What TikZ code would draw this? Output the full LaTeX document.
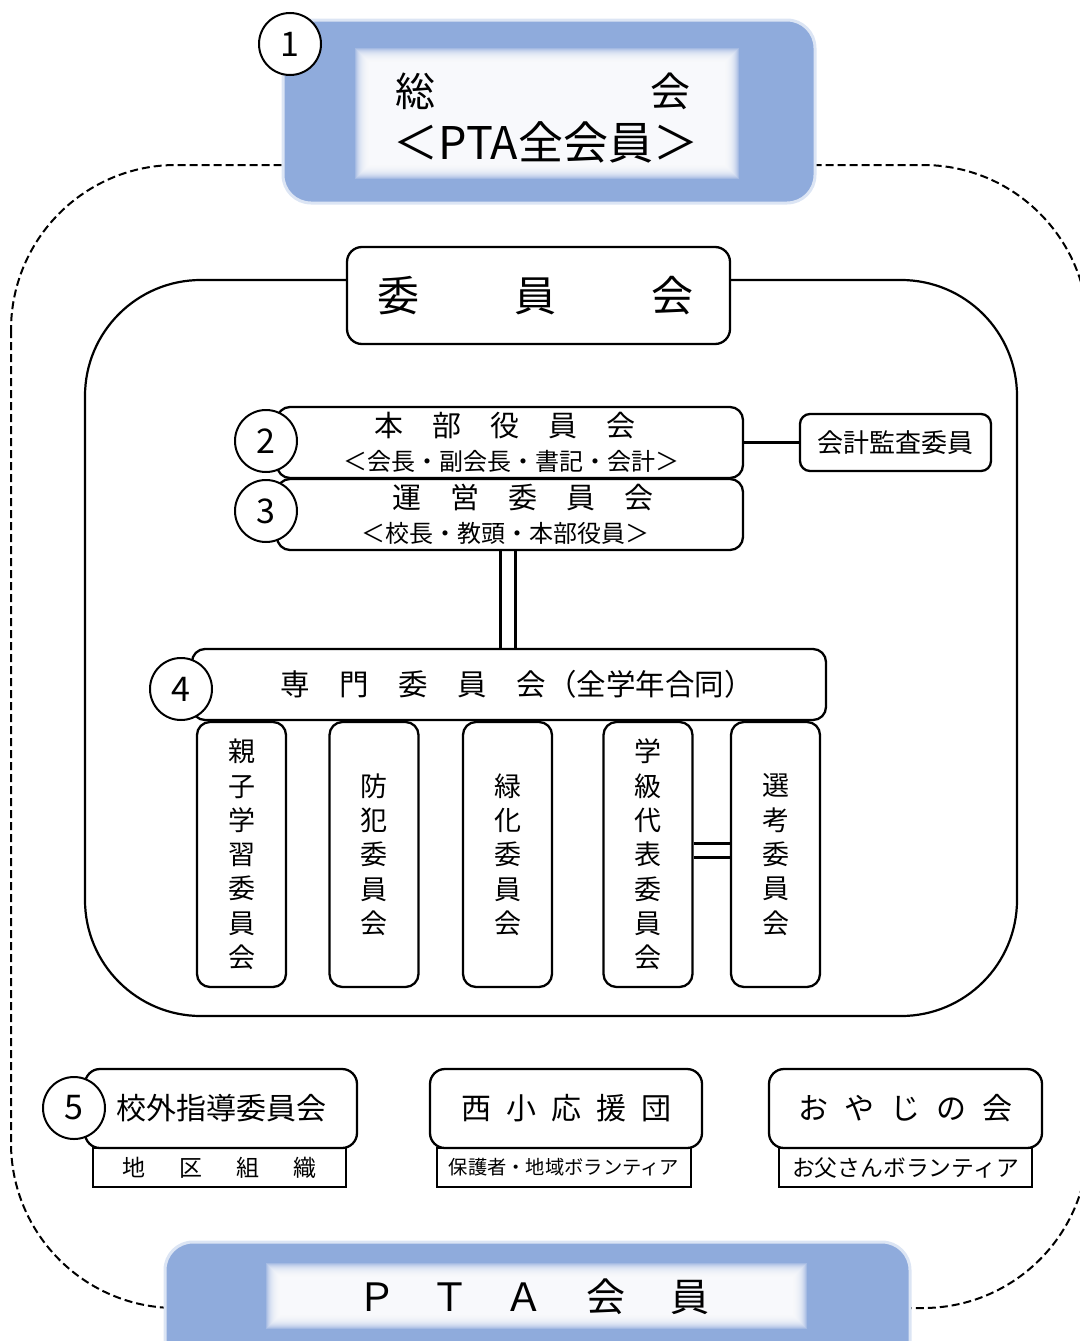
\documentclass[tikz,border=0pt]{standalone}
\usepackage{fontspec}
\setmainfont{Noto Sans CJK JP}
\usetikzlibrary{calc}
\definecolor{pblue}{HTML}{8FABDC}
\definecolor{pborder}{HTML}{DCE5F4}
\definecolor{pwhite}{HTML}{F8F9FC}
\tikzset{
 box/.style={draw=black, line width=2.3pt, rounded corners=13pt, fill=white, inner sep=0pt},
 num/.style={circle, draw=black, line width=2pt, fill=white, minimum size=62pt, inner sep=0pt, font=\fontsize{34}{34}\selectfont},
 subbox/.style={draw=black, line width=2.3pt, fill=white, inner sep=0pt, minimum height=39pt},
 conn/.style={draw=black, line width=2.4pt},
 dconn/.style={draw=black, line width=3pt},
 bluebox/.style={fill=pblue, draw=pborder, line width=3pt, rounded corners=28pt, inner sep=0pt},
 vbox/.style={box, minimum width=89pt, minimum height=265pt, align=center, font=\fontsize{27}{34.3}\selectfont},
 botbox/.style={box, minimum width=272pt, minimum height=79pt, rounded corners=15pt, font=\fontsize{30}{30}\selectfont},
 twoline/.style={box, minimum width=466pt, minimum height=71pt, align=center, font=\fontsize{24}{34}\selectfont},
}
\newcommand{\blurbox}[4]{%
  \foreach \i in {-7,...,7} {\fill[white, opacity=0.19] ({#1-\i},{#2-\i}) rectangle ({#3+\i},{#4+\i});}
  \fill[pwhite] ({#1+7},{#2+7}) rectangle ({#3-7},{#4-7});
}
\begin{document}
\begin{tikzpicture}[x=1pt,y=-1pt]
\useasboundingbox (0,0) rectangle (1079,1341);
% outer dashed frame
\draw[line width=2pt, dash pattern=on 8pt off 4pt, rounded corners=165pt] (11,165) rectangle (1088,1308);
% inner committee frame
\draw[line width=2.2pt, rounded corners=116pt] (85,280) rectangle (1017,1016);

% top general assembly
\node[bluebox, minimum width=532pt, minimum height=183pt] (sokaibox) at (549,111.5) {};
\blurbox{362}{55}{732}{172}
\node[font=\fontsize{40}{53}\selectfont, align=center] (sokai) at (546,118) {\makebox[295pt]{総\hfill 会}\hspace*{7pt}\\{\fontsize{45}{53}\selectfont ＜PTA全会員＞}};
\node[num] (n1) at (290,44) {1};

% committee title
\node[box, minimum width=383pt, minimum height=97pt, rounded corners=15pt, font=\fontsize{42}{42}\selectfont] (iinkai) at (538.5,295.5) {\hspace*{-6pt}委\hspace{95pt}員\hspace{95pt}会};

% honbu / unei
\node[twoline] (honbu) at (510,442.5) {\hspace*{-10pt}{\fontsize{29}{34}\selectfont 本　部　役　員　会}\\\hspace*{3pt}＜会長・副会長・書記・会計＞};
\node[twoline] (unei) at (510,514.5) {\hspace*{26pt}{\fontsize{29}{34}\selectfont 運　営　委　員　会}\\\hspace*{-10pt}＜校長・教頭・本部役員＞};
\node[box, minimum width=191pt, minimum height=57pt, rounded corners=10pt, font=\fontsize{26}{26}\selectfont] (kansa) at (895.5,442.5) {会計監査委員};
\node[num] (n2) at (266,441) {2};
\node[num] (n3) at (266,511) {3};
\draw[conn] (honbu.east) -- (kansa.west);

% senmon
\node[box, minimum width=634pt, minimum height=71pt, font=\fontsize{29.5}{29.5}\selectfont] (senmon) at (509,684.5) {\hspace*{16pt}専　門　委　員　会\hspace{2pt}（全学年合同）};
\node[num] (n4) at (181,689) {4};
\coordinate (u1) at ($(unei.south)+(-9.5,0)$);
\coordinate (u2) at ($(unei.south)+(5.5,0)$);
\draw[dconn] (u1) -- (u1 |- senmon.north);
\draw[dconn] (u2) -- (u2 |- senmon.north);

% sub committees
\node[vbox] (v1) at (241.5,854.5) {親\\子\\学\\習\\委\\員\\会};
\node[vbox] (v2) at (374,854.5) {防\\犯\\委\\員\\会};
\node[vbox] (v3) at (507.5,854.5) {緑\\化\\委\\員\\会};
\node[vbox] (v4) at (648,854.5) {学\\級\\代\\表\\委\\員\\会};
\node[vbox] (v5) at (775.5,854.5) {選\\考\\委\\員\\会};
\coordinate (g1) at ($(v4.east)+(0,-11.5)$);
\coordinate (g2) at ($(v4.east)+(0,2.5)$);
\draw[dconn] (g1) -- (g1 -| v5.west);
\draw[dconn] (g2) -- (g2 -| v5.west);

% bottom groups
\node[subbox, minimum width=253pt, font=\fontsize{23}{23}\selectfont] (chiku) at (219.5,1167.5) {地\hspace{34pt}区\hspace{34pt}組\hspace{34pt}織};
\node[botbox] (kogai) at (221,1108.5) {校外指導委員会};
\node[num] (n5) at (74,1108) {5};

\node[subbox, minimum width=254pt, font=\fontsize{19.3}{19.3}\selectfont] (hogo) at (564,1167.5) {保護者・地域ボランティア};
\node[botbox] (nishi) at (566,1108.5) {西\hspace{15pt}小\hspace{15pt}応\hspace{15pt}援\hspace{15pt}団};

\node[subbox, minimum width=253pt, font=\fontsize{22.8}{22.8}\selectfont] (otou) at (905.5,1167.5) {お父さんボランティア};
\node[botbox, minimum width=273pt] (oyaji) at (905.5,1108.5) {お\hspace{16pt}や\hspace{16pt}じ\hspace{16pt}の\hspace{16pt}会};

% bottom PTA members
\node[bluebox, minimum width=745pt, minimum height=140pt] (ptabox) at (537.5,1312) {};
\blurbox{273}{1270}{800}{1322}
\node[font=\fontsize{39}{39}\selectfont] (pta) at (533.5,1297) {Ｐ\hspace{34pt}Ｔ\hspace{35pt}Ａ\hspace{43pt}会\hspace{45pt}員};
\end{tikzpicture}
\end{document}
